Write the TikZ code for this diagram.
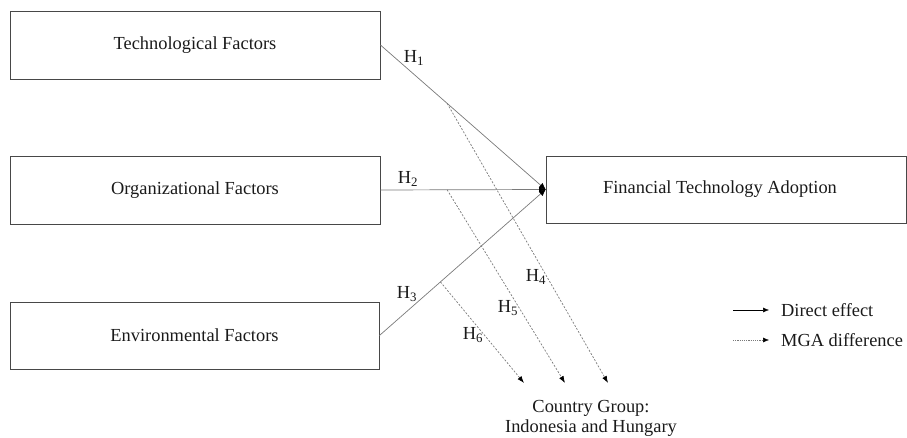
\documentclass[tikz,border=0pt]{standalone}
\usepackage{fontspec}
\setmainfont{Liberation Serif}
\usetikzlibrary{arrows.meta}
\definecolor{boxline}{HTML}{484848}
\definecolor{conn}{HTML}{7A7A7A}
\definecolor{txt}{HTML}{1A1A1A}
\begin{document}
\begin{tikzpicture}[x=1pt,y=-1pt,
  every node/.style={font=\fontsize{18.4}{22}\selectfont, text=txt},
  factor/.style={draw=boxline, line width=0.9pt, rectangle, minimum height=68pt, inner sep=0pt},
  direct/.style={draw=conn, line width=0.7pt, -{Latex[length=7pt,width=6pt,color=black]}, shorten >=-0.5pt},
  mga/.style={draw=conn, line width=0.7pt, dash pattern=on 2pt off 1.6pt, -{Latex[length=7pt,width=5pt,color=black]}},
  hlab/.style={inner sep=0pt}]
\useasboundingbox (0,0) rectangle (907,438);
\node[factor, minimum width=370pt] (tech) at (195,45) {Technological Factors};
\node[factor, minimum width=370pt] (org) at (195,190) {Organizational Factors};
\node[factor, minimum width=369pt, minimum height=67pt] (env) at (194.5,335.5) {Environmental Factors};
\node[factor, minimum width=360pt, minimum height=67pt] (fta) at (726,189.5) {\hspace*{-12pt}Financial Technology Adoption};

\draw[direct] (tech.east) -- (fta.west);
\draw[direct] (org.east) -- (fta.west);
\draw[direct] (env.east) -- (fta.west);

\path (tech.east) -- (fta.west) coordinate[pos=0.404] (m1);
\path (org.east) -- (fta.west) coordinate[pos=0.404] (m2);
\path (env.east) -- (fta.west) coordinate[pos=0.367] (m3);
\coordinate (t4) at (608,383);
\coordinate (t5) at (565,383);
\coordinate (t6) at (524,383);
\draw[mga] (m1) -- (t4);
\draw[mga] (m2) -- (t5);
\draw[mga] (m3) -- (t6);

\node[hlab] (h1) at (414,58) {H\textsubscript{1}};
\node[hlab] (h2) at (408,179) {H\textsubscript{2}};
\node[hlab] (h3) at (407,294) {H\textsubscript{3}};
\node[hlab] (h4) at (536,277) {H\textsubscript{4}};
\node[hlab] (h5) at (508,308) {H\textsubscript{5}};
\node[hlab] (h6) at (473,335) {H\textsubscript{6}};

\node[align=center, inner sep=0pt] (cg) at (591,418) {Country Group:\\[-2pt]Indonesia and Hungary};

\coordinate (l1a) at (733,310);
\coordinate (l1b) at (769,310);
\coordinate (l2a) at (733,340);
\coordinate (l2b) at (769,340);
\draw[draw=black, line width=0.5pt, -{Latex[length=6pt,width=5pt]}] (l1a) -- (l1b);
\draw[draw=conn, line width=0.5pt, dash pattern=on 1.2pt off 1pt, -{Latex[length=6pt,width=5pt,color=black]}] (l2a) -- (l2b);
\node[anchor=west, inner sep=0pt] (d1) at (781,310) {Direct effect};
\node[anchor=west, inner sep=0pt] (d2) at (781,340) {MGA difference};
\end{tikzpicture}
\end{document}
